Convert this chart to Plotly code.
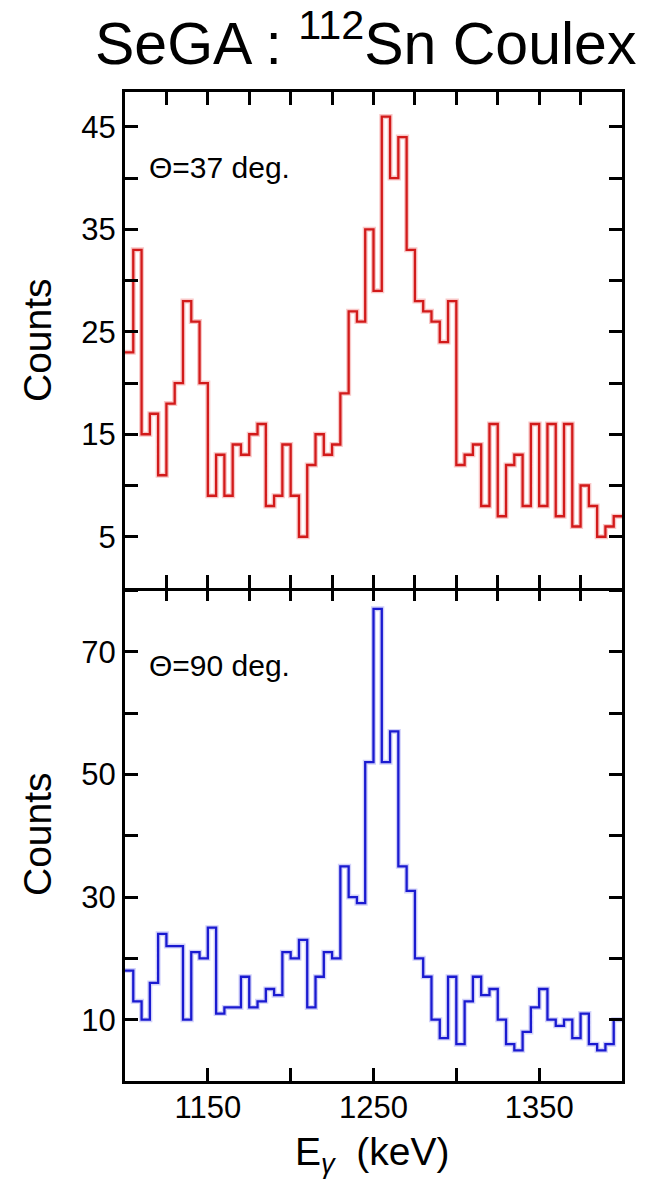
import plotly.graph_objects as go

# Gamma-ray energy binning (keV): 60 bins of 5 keV from 1100 to 1400
bin_edges_keV = list(range(1100, 1405, 5))

# Counts per bin, detector ring at 37 degrees
counts_37deg = [23, 33, 15, 17, 11, 18, 20, 28, 26, 20,
                9, 13, 9, 14, 13, 15, 16, 8, 9, 14,
                9, 5, 12, 15, 13, 14, 19, 27, 26, 35,
                29, 46, 40, 44, 33, 28, 27, 26, 24, 28,
                12, 13, 14, 8, 16, 7, 12, 13, 8, 16,
                8, 16, 7, 16, 6, 10, 8, 5, 6, 7]

# Counts per bin, detector ring at 90 degrees
counts_90deg = [18, 13, 10, 16, 24, 22, 22, 10, 21, 20,
                25, 11, 12, 12, 17, 12, 13, 15, 14, 21,
                20, 23, 12, 17, 21, 20, 35, 30, 29, 52,
                77, 52, 57, 35, 31, 20, 17, 10, 7, 17,
                6, 13, 17, 14, 15, 10, 6, 5, 8, 12,
                15, 10, 9, 10, 7, 11, 6, 5, 6, 10]

x_ticks_top = [1125, 1150, 1175, 1200, 1225, 1250, 1275, 1300, 1325, 1350, 1375]
x_labels_bottom = [1150, 1250, 1350]
y_labels_37 = [5, 15, 25, 35, 45]
y_labels_90 = [10, 30, 50, 70]

FONT = "Liberation Sans, Arial, Helvetica, sans-serif"
RED = "#d21a1a"
BLUE = "#1a1ad0"


def step_xy(counts):
    # repeat the last bin so the 'hv' step reaches the upper edge of the last bin
    return bin_edges_keV, list(counts) + [counts[-1]]


fig = go.Figure()

for counts, color, halo, xa, ya in [
    (counts_37deg, RED, "rgba(235,70,70,0.30)", "x2", "y2"),
    (counts_90deg, BLUE, "rgba(70,70,235,0.25)", "x", "y"),
]:
    xs, ys = step_xy(counts)
    fig.add_trace(go.Scatter(x=xs, y=ys, mode="lines", line=dict(color=halo, width=5, shape="hv"),
                             xaxis=xa, yaxis=ya, hoverinfo="skip", showlegend=False))
    fig.add_trace(go.Scatter(x=xs, y=ys, mode="lines", line=dict(color=color, width=2.3, shape="hv"),
                             xaxis=xa, yaxis=ya, showlegend=False))

# invisible trace so the top-side tick axis of the lower panel is drawn
fig.add_trace(go.Scatter(x=[1100], y=[0], mode="markers", marker=dict(opacity=0),
                         xaxis="x3", yaxis="y", hoverinfo="skip", showlegend=False))

tick_style = dict(ticks="inside", ticklen=13, tickwidth=2.5, tickcolor="black")
axis_common = dict(showgrid=False, zeroline=False, showline=True, linecolor="black", linewidth=3,
                   tickfont=dict(family=FONT, size=31, color="black"), **tick_style)

split = 0.4985

fig.update_layout(
    width=645, height=1189,
    margin=dict(l=125, r=23, t=92, b=108),
    paper_bgcolor="white", plot_bgcolor="white",
    xaxis=dict(domain=[0, 1], anchor="y", range=[1100, 1400], tickvals=x_labels_bottom,
               minor=dict(tick0=1100, dtick=50, **tick_style),
               ticklabelstandoff=-3, **axis_common),
    xaxis3=dict(overlaying="x", anchor="y", side="top", range=[1100, 1400], tickvals=x_ticks_top,
                showticklabels=False, **{**axis_common, "showline": False}),
    xaxis2=dict(domain=[0, 1], anchor="y2", range=[1100, 1400], tickvals=x_ticks_top,
                showticklabels=False, mirror="ticks", **axis_common),
    yaxis=dict(domain=[0, split], anchor="x", range=[0, 80.4], tickvals=y_labels_90,
               minor=dict(tick0=0, dtick=10, **tick_style),
               mirror="ticks", ticklabelstandoff=0, **axis_common),
    yaxis2=dict(domain=[split, 1], anchor="x2", range=[0, 48.4], tickvals=y_labels_37,
                minor=dict(tick0=0, dtick=5, **tick_style),
                mirror="ticks", ticklabelstandoff=0, **axis_common),
)

plot_h = 1189 - 92 - 108
plot_w = 645 - 125 - 23


def px_x(px):
    return (px - 125) / plot_w


def px_y(py):
    return (1189 - 108 - py) / plot_h


annotations = [
    dict(text="SeGA : <sup>112</sup>Sn Coulex", x=px_x(365), y=px_y(40),
         font=dict(family=FONT, size=59, color="black")),
    dict(text="Counts", x=px_x(37), y=px_y(340), textangle=-90,
         font=dict(family=FONT, size=39, color="black")),
    dict(text="Counts", x=px_x(37), y=px_y(834), textangle=-90,
         font=dict(family=FONT, size=39, color="black")),
    dict(text="E<sub><i>γ</i></sub>\u00a0\u00a0(keV)", x=px_x(372), y=px_y(1154),
         font=dict(family=FONT, size=39, color="black")),
    dict(text="Θ=37 deg.", x=px_x(147), y=px_y(168), xanchor="left",
         font=dict(family=FONT, size=30, color="black")),
    dict(text="Θ=90 deg.", x=px_x(147), y=px_y(665), xanchor="left",
         font=dict(family=FONT, size=30, color="black")),
]
for a in annotations:
    a.setdefault("xanchor", "center")
    a.update(xref="paper", yref="paper", yanchor="middle", showarrow=False)
fig.update_layout(annotations=annotations)

fig.write_html("out.html")
